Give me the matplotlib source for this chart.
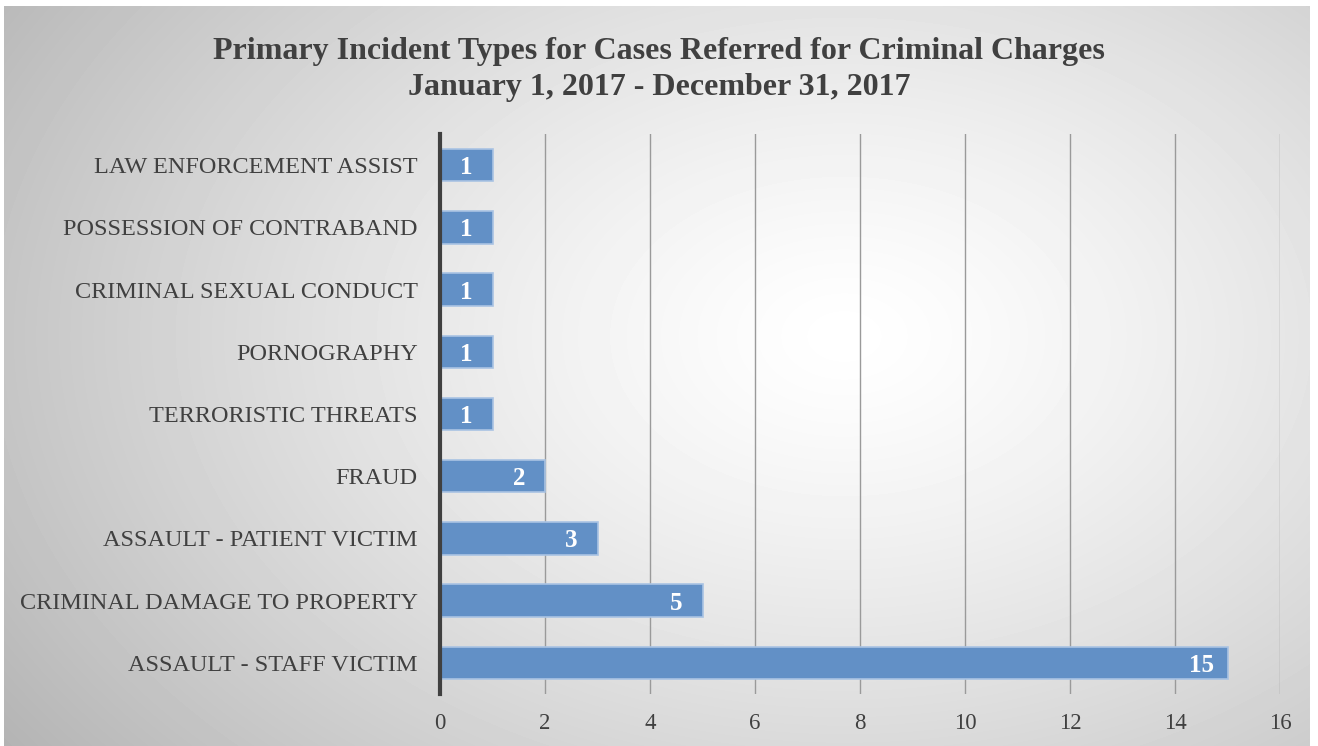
import numpy as np
import matplotlib.pyplot as plt

categories = ["ASSAULT - STAFF VICTIM", "CRIMINAL DAMAGE TO PROPERTY",
              "ASSAULT - PATIENT VICTIM", "FRAUD", "TERRORISTIC THREATS",
              "PORNOGRAPHY", "CRIMINAL SEXUAL CONDUCT",
              "POSSESSION OF CONTRABAND", "LAW ENFORCEMENT ASSIST"]
counts = [15, 5, 3, 2, 1, 1, 1, 1, 1]
x_ticks = [0, 2, 4, 6, 8, 10, 12, 14, 16]

plt.rcParams['font.family'] = ['Liberation Serif', 'DejaVu Serif']

W, H = 1318, 746
fig = plt.figure(figsize=(W / 100, H / 100), dpi=100)
fig.patch.set_facecolor('white')

# radial gradient background (light centre, grey corners)
bg = fig.add_axes([4 / W, 0, 1306 / W, 740 / H])
yy, xx = np.mgrid[0:740, 0:1306]
d = np.sqrt(((xx - 840) / 880.0) ** 2 + ((yy - 330) / 600.0) ** 2)
shade = 1.0 - 0.24 * np.clip(d, 0, 1.2) ** 1.3
bg.imshow(shade, cmap='gray', vmin=0, vmax=1, aspect='auto', interpolation='bilinear')
bg.set_axis_off()

ax = fig.add_axes([440 / W, (H - 694) / H, 840 / W, (694 - 134) / H])
ax.patch.set_alpha(0)
ypos = np.arange(len(categories))
bars = ax.barh(ypos, counts, height=0.52, color='#6290c6', edgecolor='#a9c3e3', linewidth=1.2, zorder=3)
for b, v in zip(bars, counts):
    ax.text(b.get_width() - 0.5, b.get_y() + b.get_height() / 2 - 0.04, str(v),
            ha='center', va='center', color='white', fontsize=18, fontweight='bold', zorder=4)

ax.set_xlim(0, 16)
ax.set_ylim(-0.5, len(categories) - 0.5)
ax.set_xticks(x_ticks)
ax.set_xticklabels([str(t) for t in x_ticks], fontsize=16.5, color='#404040')
ax.set_yticks(ypos)
ax.set_yticklabels(categories, fontsize=17.5, color='#404040')
ax.tick_params(axis='x', length=0, pad=14)
ax.tick_params(axis='y', length=0, pad=16)
ax.xaxis.grid(True, color='#9a9a9a', linewidth=1, zorder=0)
for s in ['top', 'right', 'bottom']:
    ax.spines[s].set_visible(False)
ax.spines['left'].set_color('#404040')
ax.spines['left'].set_linewidth(3)
ax.spines['left'].set_zorder(5)

fig.text(0.5, 1 - 51 / H, "Primary Incident Types for Cases Referred for Criminal Charges",
         ha='center', va='center', fontsize=23, fontweight='bold', color='#404040')
fig.text(0.5, 1 - 87 / H, "January 1, 2017 - December 31, 2017",
         ha='center', va='center', fontsize=23, fontweight='bold', color='#404040')

fig.savefig('out.png', dpi=100)
